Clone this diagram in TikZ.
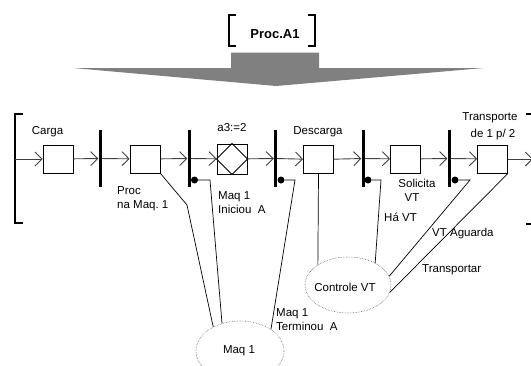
\documentclass[tikz,border=0pt]{standalone}
\usepackage{fontspec}
\setmainfont{Liberation Sans}
\usetikzlibrary{arrows.meta,shapes.geometric}
\definecolor{arrowgray}{HTML}{808080}
\definecolor{linegray}{HTML}{404040}
\begin{document}
\begin{tikzpicture}[x=1pt,y=-1pt,
  lbl/.style={font=\fontsize{11.5}{14}\selectfont, inner sep=0pt},
  stepbox/.style={draw=black, line width=0.9pt, minimum width=30pt, minimum height=28pt, inner sep=0pt, fill=white},
  bar/.style={fill=black, minimum width=3pt, minimum height=57pt, inner sep=0pt},
  flow/.style={draw=linegray, line width=0.9pt, -{Straight Barb[length=7pt,width=14pt]}},
  link/.style={draw=black, line width=0.7pt},
  dotn/.style={circle, fill=black, minimum size=7pt, inner sep=0pt},
  res/.style={ellipse, draw=black!60, densely dotted, line width=0.6pt, inner sep=0pt},
  brk/.style={draw=black, line width=2pt}
]
\useasboundingbox (0,0) rectangle (531,365);
\clip (0,0) rectangle (531,365);

% header
\node[font=\bfseries\fontsize{13}{15}\selectfont, inner sep=0pt] (proc) at (275,34) {Proc.A1};
\draw[brk] (235.5,15) -- (228.5,15) -- (228.5,45.5) -- (235.5,45.5);
\draw[brk] (308,15) -- (315,15) -- (315,45.5) -- (308,45.5);
\fill[arrowgray] (231,52.5) -- (319,52.5) -- (319,68) -- (484,68) -- (276,86) -- (73,68) -- (231,68) -- cycle;

% main brackets
\draw[brk] (23,114) -- (15,114) -- (15,223) -- (23,223);
\draw[brk] (526,114) -- (534,114) -- (534,224) -- (526,224);

% process chain
\coordinate (start) at (15,159);
\coordinate (finish) at (533,159);
\node[stepbox] (b1) at (58,159) {};
\node[bar] (t1) at (100,158.5) {};
\node[stepbox] (b2) at (145,159) {};
\node[bar] (t2) at (189,158.5) {};
\node[stepbox, minimum height=30pt] (b3) at (232,159) {};
\node[bar] (t3) at (275.5,158.5) {};
\node[stepbox] (b4) at (318.5,159.5) {};
\node[bar] (t4) at (363,158.5) {};
\node[stepbox] (b5) at (405.5,159) {};
\node[bar] (t5) at (449,158.5) {};
\node[stepbox] (b6) at (492.5,159) {};
\draw[line width=0.9pt] (b3.north) -- (b3.east) -- (b3.south) -- (b3.west) -- cycle;

\draw[flow] (start) -- (b1);
\draw[flow] (b1) -- (t1);
\draw[flow] (t1) -- (b2);
\draw[flow] (b2) -- (t2);
\draw[flow] (t2) -- (b3);
\draw[flow] (b3) -- (t3);
\draw[flow] (t3) -- (b4);
\draw[flow] (b4) -- (t4);
\draw[flow] (t4) -- (b5);
\draw[flow] (b5) -- (t5);
\draw[flow] (t5) -- (b6);
\draw[flow] (b6) -- (finish);

% resources
\node[res, minimum width=88pt, minimum height=60pt] (maq) at (240,351) {};
\node[lbl] (maqtxt) at (239,351) {Maq 1};
\node[res, minimum width=86pt, minimum height=56pt] (ctrl) at (348,285) {};
\node[lbl] (ctrltxt) at (345,287) {Controle VT};

% dots and corners
\node[dotn] (d2) at (194.5,180) {};
\node[dotn] (d3) at (281,180) {};
\node[dotn] (d4) at (368,180) {};
\node[dotn] (d5) at (455,180) {};
\coordinate (k1) at (187,205);
\coordinate (c2) at (210,180);
\coordinate (c3) at (295,180);
\coordinate (c4) at (381,180);
\coordinate (c5) at (470,180);

\draw[link] (b2.south east) -- (k1) -- (maq.138);
\draw[link] (d2) -- (c2) -- (maq.123);
\draw[link] (d3) -- (c3) -- (maq.35);
\draw[link] (b4.south) -- (ctrl.146);
\draw[link] (d4) -- (c4) -- (ctrl.39);
\draw[link] (d5) -- (c5) -- (ctrl.12);
\draw[link] (b6.south east) -- (ctrl.-10);

% labels
\node[lbl] (lcarga) at (47.5,132) {Carga};
\node[lbl] (la3) at (232,128) {a3:=2};
\node[lbl] (ldesc) at (318,132) {Descarga};
\node[lbl] (ltr1) at (490,118) {Transporte};
\node[lbl] (ltr2) at (493,135) {de 1 p/ 2};
\node[lbl, anchor=west, align=left] (lproc) at (117,199) {Proc\\na Maq.\ 1};
\node[lbl, anchor=west, align=left] (lini) at (218,203) {Maq 1\\Iniciou\ \ A};
\node[lbl] (lsol1) at (417,183) {Solicita};
\node[lbl] (lsol2) at (412,198) {VT};
\node[lbl, anchor=west] (lha) at (384,217) {Há VT};
\node[lbl, anchor=west] (lag) at (432,234) {VT Aguarda};
\node[lbl, anchor=west] (ltp) at (422,270) {Transportar};
\node[lbl, anchor=west, align=left] (lter) at (276,320) {Maq 1\\Terminou\ \ A};
\end{tikzpicture}
\end{document}
